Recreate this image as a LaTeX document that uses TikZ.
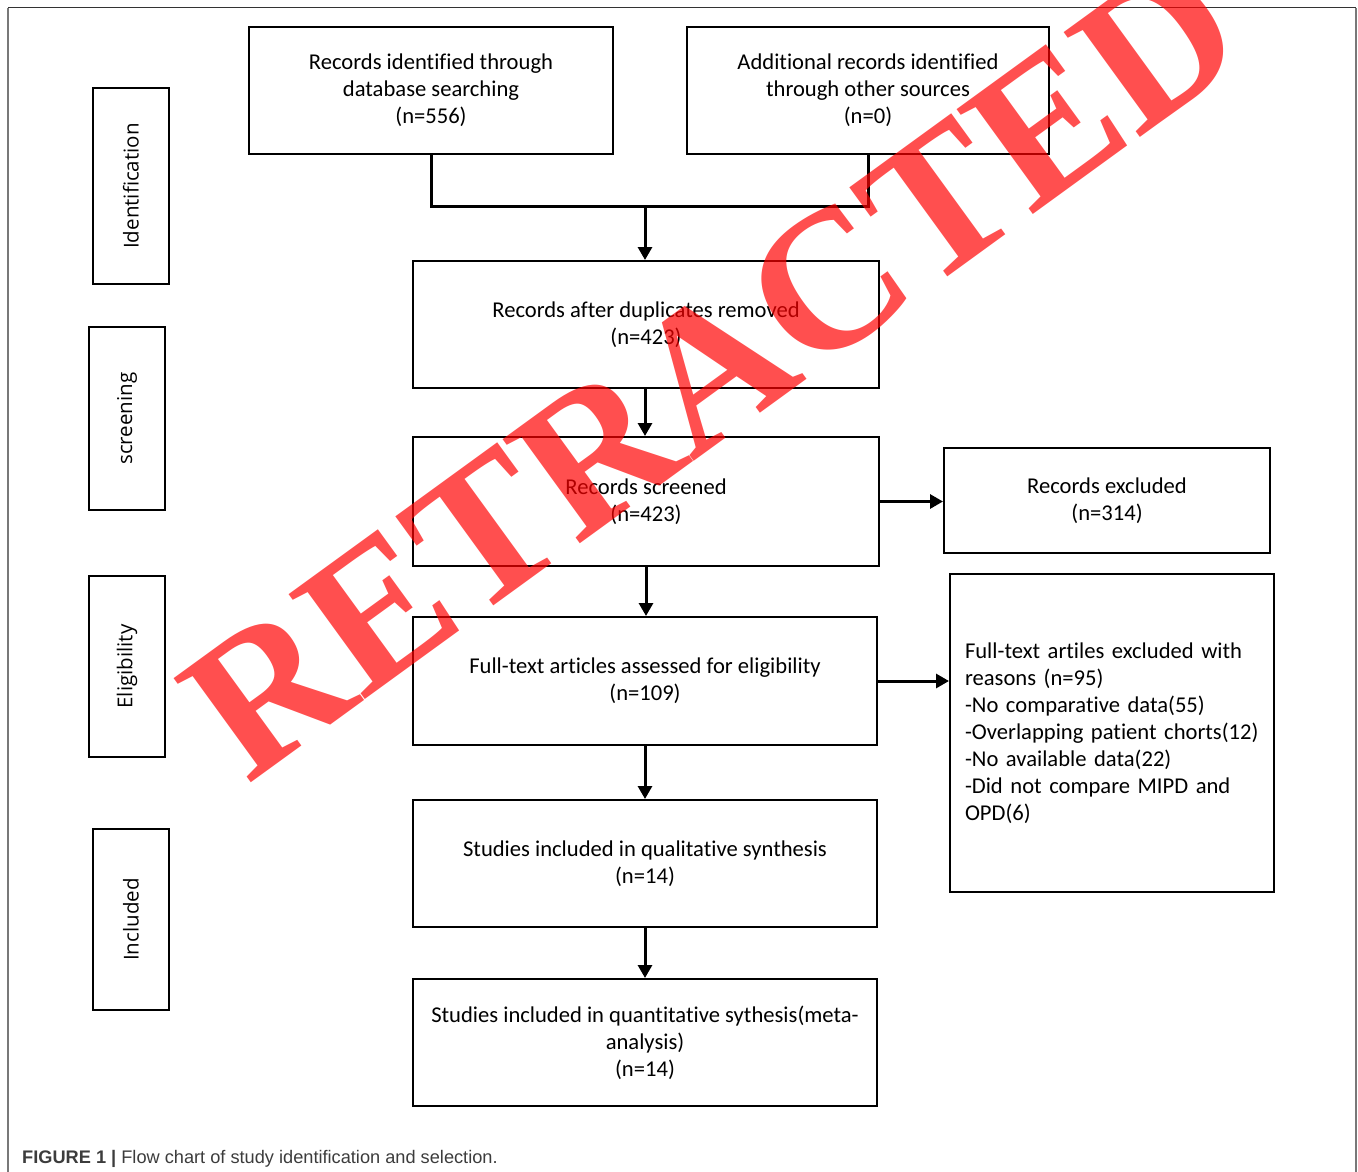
\documentclass[tikz,border=0pt]{standalone}
\usepackage{fontspec}
\usetikzlibrary{arrows.meta}
\newfontfamily\calfont[Ligatures=NoCommon]{Carlito}
\newfontfamily\sidefont{Open Sans}
\newfontfamily\capfont{Liberation Sans}
\newfontfamily\wmfont{Liberation Serif}
\definecolor{framegray}{RGB}{120,120,120}
\definecolor{captxt}{RGB}{60,60,60}
\tikzset{
  flowbox/.style={draw=black, line width=2pt, rectangle, align=center,
    font=\calfont\fontsize{22.6}{27}\selectfont, inner sep=0pt},
  sidebox/.style={draw=black, line width=2pt, rectangle, rotate=90,
    font=\sidefont\fontsize{20.5}{24}\selectfont, inner sep=0pt},
  conn/.style={line width=3pt},
  arr/.style={line width=3pt, -{Triangle[length=13pt,width=14pt]}},
}
\begin{document}
\begin{tikzpicture}[x=1pt,y=-1pt]
\useasboundingbox (0,0) rectangle (1358,1172);
% outer frame
\draw[framegray, line width=2pt] (8,1172) -- (8,8);
\draw[framegray, line width=2pt] (1356,8) -- (1356,1172);
\draw[black!80, line width=1pt] (8,8) -- (1356,8);

% main boxes
\node[flowbox, minimum width=364, minimum height=127] (A) at (431,90.5)
  {Records identified through\\database searching\\(n=556)};
\node[flowbox, minimum width=362, minimum height=127] (B) at (868,90.5)
  {Additional records identified\\through other sources\\(n=0)};
\node[flowbox, minimum width=466, minimum height=127] (C) at (646,324.5)
  {Records after duplicates removed\\(n=423)};
\node[flowbox, minimum width=466, minimum height=129] (D) at (646,501.5)
  {Records screened\\(n=423)};
\node[flowbox, minimum width=326, minimum height=105] (E) at (1107,500.5)
  {Records excluded\\(n=314)};
\node[flowbox, minimum width=464, minimum height=128] (F) at (645,681)
  {Full-text articles assessed for eligibility\\(n=109)};
\node[flowbox, align=left, text width=294pt, inner xsep=15pt, minimum height=318] (G) at (1112,733)
  {Full-text artiles excluded with\\reasons (n=95)\\-No comparative data(55)\\-Overlapping patient chorts(12)\\-No available data(22)\\-Did not compare MIPD and\\OPD(6)};
\node[flowbox, minimum width=464, minimum height=127] (H) at (645,863.5)
  {Studies included in qualitative synthesis\\(n=14)};
\node[flowbox, minimum width=464, minimum height=127] (I) at (645,1042.5)
  {Studies included in quantitative sythesis(meta-\\analysis)\\(n=14)};

% side boxes
\node[sidebox, minimum width=196, minimum height=76] (S1) at (131,186) {Identification};
\node[sidebox, minimum width=183, minimum height=76] (S2) at (127,418.5) {screening};
\node[sidebox, minimum width=181, minimum height=76] (S3) at (127,666.5) {Eligibility};
\node[sidebox, minimum width=181, minimum height=76] (S4) at (131,919.5) {Included};

% connectors
\coordinate (j) at (645,206);
\draw[conn] (A.south) |- (j) -| (B.south);
\draw[arr] (j) -- (j |- C.north);
\draw[arr] (C.south -| j) -- (j |- D.north);
\draw[arr] (D.east) -- (D.east -| E.west);
\draw[arr] (D.south) -- (D.south |- F.north);
\draw[arr] (F.east) -- (F.east -| G.west);
\draw[arr] (F.south) -- (H.north);
\draw[arr] (H.south) -- (I.north);

% caption
\node[anchor=base west, inner sep=0pt, text=captxt, font=\capfont\fontsize{18.2}{22}\selectfont] (cap) at (22,1163)
  {\textbf{FIGURE 1 |} Flow chart of study identification and selection.};

% watermark
\node[rotate=36, text=red, text opacity=0.69, inner sep=0pt,
  font=\wmfont\bfseries\fontsize{198}{200}\selectfont] (wm) at (712,368) {RETRACTED};
\end{tikzpicture}
\end{document}
